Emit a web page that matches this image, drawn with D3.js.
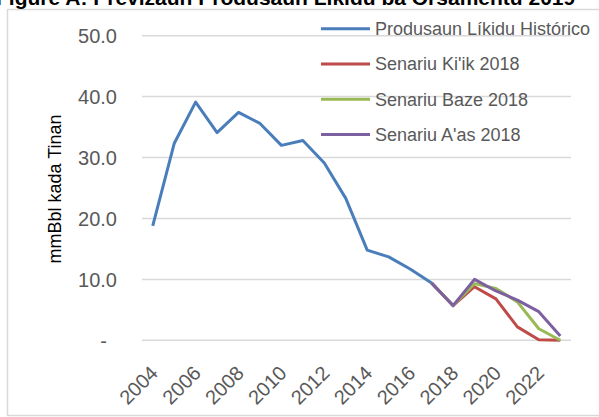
<!DOCTYPE html>
<html>
<head>
<meta charset="utf-8">
<script src="https://cdn.jsdelivr.net/npm/d3@7"></script>
<style>
  body { margin: 0; background: #fff; }
  text { font-family: "Liberation Sans", Arial, sans-serif; }
</style>
</head>
<body>
<script>
// data
let years = d3.range(2004, 2024);
let tickYears = [2004, 2006, 2008, 2010, 2012, 2014, 2016, 2018, 2020, 2022];
let yTicks = [0, 10, 20, 30, 40, 50];

let historico = [18.8, 32.3, 39.1, 34.1, 37.4, 35.6, 32.0, 32.8, 29.1, 23.3, 14.8, 13.7, 11.7, 9.4, 5.7];
let kiik  = [9.4, 5.7, 8.8, 6.8, 2.2, 0.1, 0.0];
let baze  = [9.4, 5.7, 9.3, 8.5, 6.3, 1.9, 0.0];
let aas   = [9.4, 5.7, 10.0, 8.1, 6.6, 4.7, 0.7];

let seriesNames = ['Produsaun Líkidu Histórico', "Senariu Ki'ik 2018", 'Senariu Baze 2018', "Senariu A'as 2018"];
let seriesColors = ['#4a7ebb', '#be4b48', '#98b954', '#7d60a0'];

let series = [
    { name: seriesNames[0], start: 2004, values: historico },
    { name: seriesNames[1], start: 2017, values: kiik },
    { name: seriesNames[2], start: 2017, values: baze },
    { name: seriesNames[3], start: 2017, values: aas }
];

let svg = d3.select('body')
    .append('svg')
        .attr('width', 599)
        .attr('height', 417);

// frame + title cut off at the top
svg.append('rect')
    .attr('x', 7.5).attr('y', 9.5)
    .attr('width', 620).attr('height', 406)
    .attr('fill', 'none')
    .attr('stroke', '#d9d9d9')
    .attr('stroke-width', 1.5);

svg.append('text')
    .attr('x', -4)
    .attr('y', 5)
    .attr('font-size', 21)
    .attr('font-weight', 'bold')
    .attr('fill', '#000')
    .text('Figure A: Previzaun Produsaun Líkidu ba Orsamentu 2019');

let x = d3.scalePoint().domain(years).range([142, 571]).padding(0.5);
let y = d3.scaleLinear().domain([0, 50]).range([340.3, 35.7]);

// ============================================ GRID ===================================================================
svg.append('g')
    .selectAll('line')
    .data(yTicks).enter()
    .append('line')
        .attr('x1', 142)
        .attr('x2', 571)
        .attr('y1', d => y(d))
        .attr('y2', d => y(d))
        .attr('stroke', '#d9d9d9')
        .attr('stroke-width', 1.5);

// ============================================ AXES ===================================================================
let yAxis = d3.axisLeft(y)
    .tickValues(yTicks)
    .tickSize(0)
    .tickPadding(0)
    .tickFormat(d => d === 0 ? '-' : d3.format('.1f')(d));

let gy = svg.append('g')
    .attr('transform', 'translate(117,0)')
    .call(yAxis);
gy.select('.domain').remove();
gy.selectAll('text')
    .attr('font-size', 20)
    .attr('font-family', '"Liberation Sans", Arial, sans-serif')
    .attr('fill', '#595959')
    .attr('dy', '0.36em')
    .attr('dx', d => d === 0 ? -10 : 0);

let xAxis = d3.axisBottom(x)
    .tickValues(tickYears)
    .tickSize(0)
    .tickPadding(0);

let gx = svg.append('g')
    .attr('transform', 'translate(0,' + y(0) + ')')
    .call(xAxis);
gx.select('.domain').remove();
gx.selectAll('text')
    .attr('font-size', 20)
    .attr('font-family', '"Liberation Sans", Arial, sans-serif')
    .attr('fill', '#595959')
    .attr('y', 0)
    .attr('dy', 0)
    .attr('text-anchor', 'end')
    .attr('transform', 'translate(6,34) rotate(-45)');

svg.append('text')
    .attr('transform', 'translate(61,189) rotate(-90)')
    .attr('text-anchor', 'middle')
    .attr('font-size', 18)
    .attr('fill', '#000')
    .text('mmBbl kada Tinan');

// ============================================ LINES ==================================================================
let lineGenerator = d3.line()
    .x(d => x(d.year))
    .y(d => y(d.value));

svg.append('g')
    .selectAll('path')
    .data(series).enter()
    .append('path')
        .attr('fill', 'none')
        .attr('stroke', (d, i) => seriesColors[i])
        .attr('stroke-width', 3)
        .attr('stroke-linejoin', 'round')
        .attr('d', d => lineGenerator(d.values.map((v, i) => ({ year: d.start + i, value: v }))));

// ============================================ LEGEND =================================================================
let legend = svg.append('g')
    .selectAll('g')
    .data(seriesNames).enter()
    .append('g')
        .attr('transform', (d, i) => 'translate(321,' + (28.7 + i * 35.3) + ')');

legend.append('line')
    .attr('x1', 0).attr('x2', 49)
    .attr('stroke', (d, i) => seriesColors[i])
    .attr('stroke-width', 3);

legend.append('text')
    .attr('x', 54)
    .attr('dy', '0.36em')
    .attr('font-size', 18)
    .attr('fill', '#595959')
    .text(d => d);
</script>
</body>
</html>
